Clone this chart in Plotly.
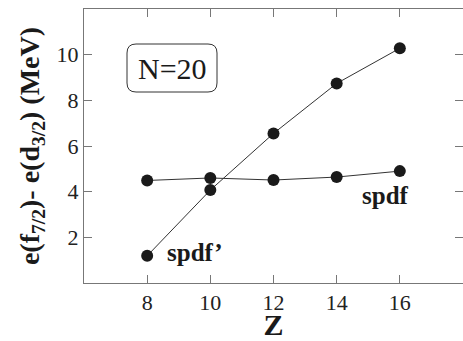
import plotly.graph_objects as go

# Proton number Z for the N=20 isotones
z_values = [8, 10, 12, 14, 16]
# f7/2 - d3/2 gap (MeV) for the two interactions
gap_spdf = [4.49, 4.60, 4.51, 4.64, 4.90]
gap_spdf_prime = [1.19, 4.07, 6.55, 8.74, 10.28]

x_ticks = [8, 10, 12, 14, 16]
y_ticks = [2, 4, 6, 8, 10]

SERIF = "Liberation Serif"

W, H = 463, 341
ML, MR, MT, MB = 84, 0, 9, 58

fig = go.Figure()
for ys in (gap_spdf, gap_spdf_prime):
    fig.add_trace(go.Scatter(
        x=z_values, y=ys, mode="lines+markers",
        line=dict(color="#333333", width=1),
        marker=dict(color="#1a1a1a", size=12),
        showlegend=False, hoverinfo="skip",
    ))

fig.add_annotation(x=15.55, y=3.85, text="<b>spdf</b>", showarrow=False,
                   font=dict(family=SERIF, size=25, color="#1a1a1a"))
fig.add_annotation(x=9.5, y=1.35, text="<b>spdf\u2019</b>", showarrow=False,
                   font=dict(family=SERIF, size=25, color="#1a1a1a"))

# rounded label box (pixel layout converted to plot-area fractions)
pw, ph = W - ML - MR, H - MT - MB
def px(xp):
    return (xp - ML) / pw
def py(yp):
    return (H - MB - yp) / ph

x0, x1, y0, y1, r = 127, 217, 44, 92, 9
path = (f"M {px(x0+r)},{py(y0)} L {px(x1-r)},{py(y0)} "
        f"Q {px(x1)},{py(y0)} {px(x1)},{py(y0+r)} L {px(x1)},{py(y1-r)} "
        f"Q {px(x1)},{py(y1)} {px(x1-r)},{py(y1)} L {px(x0+r)},{py(y1)} "
        f"Q {px(x0)},{py(y1)} {px(x0)},{py(y1-r)} L {px(x0)},{py(y0+r)} "
        f"Q {px(x0)},{py(y0)} {px(x0+r)},{py(y0)} Z")
fig.add_shape(type="path", path=path, xref="paper", yref="paper",
              line=dict(color="#333333", width=1))
fig.add_annotation(x=px((x0 + x1) / 2), y=py((y0 + y1) / 2),
                   xref="paper", yref="paper", xanchor="center", yanchor="middle",
                   text="N=20", showarrow=False,
                   font=dict(family=SERIF, size=30, color="#1a1a1a"))

axis_common = dict(
    showline=True, linecolor="#777777", linewidth=1, mirror="ticks",
    ticks="inside", ticklen=8, tickcolor="#777777", tickwidth=1,
    showgrid=False, zeroline=False, automargin=False,
    tickfont=dict(family=SERIF, size=22, color="#222222"),
)

fig.update_layout(
    width=W, height=H,
    margin=dict(l=ML, r=MR, t=MT, b=MB),
    paper_bgcolor="white", plot_bgcolor="white",
    font=dict(family=SERIF, color="#1a1a1a"),
    xaxis=dict(range=[6, 18], tickvals=x_ticks,
               ticktext=[str(v) for v in x_ticks],
               title=dict(text="<b>Z</b>", standoff=7,
                          font=dict(family=SERIF, size=30, color="#1a1a1a")),
               **axis_common),
    yaxis=dict(range=[0, 12], tickvals=y_ticks,
               ticktext=[str(v) for v in y_ticks],
               title=dict(text="<b>e(f<sub>7/2</sub>)- e(d<sub>3/2</sub>) (MeV)</b>",
                          standoff=8,
                          font=dict(family=SERIF, size=28, color="#1a1a1a")),
               **axis_common),
)

fig.write_html("out.html")
